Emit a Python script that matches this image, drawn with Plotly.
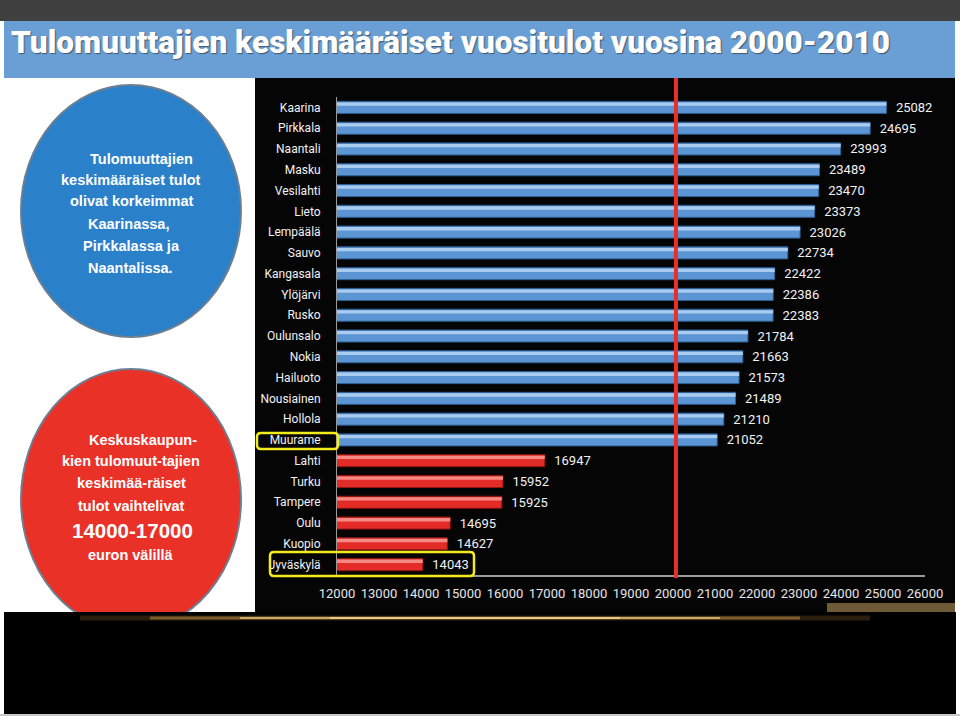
import plotly.graph_objects as go

# ---------------- data ----------------
high_names = ["Kaarina", "Pirkkala", "Naantali", "Masku", "Vesilahti", "Lieto",
              "Lempäälä", "Sauvo", "Kangasala", "Ylöjärvi", "Rusko", "Oulunsalo",
              "Nokia", "Hailuoto", "Nousiainen", "Hollola", "Muurame"]
high_values = [25082, 24695, 23993, 23489, 23470, 23373, 23026, 22734, 22422,
               22386, 22383, 21784, 21663, 21573, 21489, 21210, 21052]
city_names = ["Lahti", "Turku", "Tampere", "Oulu", "Kuopio", "Jyväskylä"]
city_values = [16947, 15952, 15925, 14695, 14627, 14043]
x_tick_values = [12000, 13000, 14000, 15000, 16000, 17000, 18000, 19000,
                 20000, 21000, 22000, 23000, 24000, 25000, 26000]
reference_level = 20000

title_text = "Tulomuuttajien keskimääräiset vuositulot vuosina 2000-2010"
blue_lines = ["Tulomuuttajien", "keskimääräiset tulot", "olivat korkeimmat",
              "Kaarinassa,", "Pirkkalassa ja", "Naantalissa."]
red_lines = ["Keskuskaupun-", "kien tulomuut-tajien", "keskimää-räiset",
             "tulot vaihtelivat", "14000-17000", "euron välillä"]

# ---------------- layout helpers ----------------
W, H = 960, 716
def px(x):
    return x / W
def py(y):
    return 1 - y / H

names = high_names + city_names
values = high_values + city_values
main_colors = ["#5b95d3"] * len(high_names) + ["#e32b27"] * len(city_names)
edge_colors = ["#2d5d92"] * len(high_names) + ["#8e1512"] * len(city_names)
hi_colors = ["#a9cbef"] * len(high_names) + ["#f58a84"] * len(city_names)

label_font = "Roboto, Liberation Sans, sans-serif"

fig = go.Figure()
fig.add_trace(go.Bar(
    x=values, y=names, orientation="h", width=0.58,
    marker=dict(color=main_colors, line=dict(color=edge_colors, width=1)),
    text=["\u00a0\u00a0" + str(v) for v in values], textposition="outside",
    textfont=dict(color="#f2f2f2", size=13, family=label_font),
    constraintext="none", cliponaxis=False, hoverinfo="x+y", showlegend=False,
))
fig.add_trace(go.Bar(
    x=values, y=names, orientation="h", width=0.16, offset=-0.24,
    marker=dict(color=hi_colors, line=dict(width=0)),
    hoverinfo="skip", showlegend=False,
))

shapes = []
# top dark band
shapes.append(dict(type="rect", xref="paper", yref="paper", x0=0, x1=1,
                   y0=py(21), y1=py(0), fillcolor="#404040", line=dict(width=0), layer="below"))
# blue title band
shapes.append(dict(type="rect", xref="paper", yref="paper", x0=px(4), x1=px(955),
                   y0=py(78), y1=py(21), fillcolor="#6a9fd6", line=dict(width=0), layer="below"))
# black chart panel
shapes.append(dict(type="rect", xref="paper", yref="paper", x0=px(255), x1=px(955),
                   y0=py(613), y1=py(78), fillcolor="#050505", line=dict(width=0), layer="below"))
# source box (bottom right)
shapes.append(dict(type="rect", xref="paper", yref="paper", x0=px(827), x1=px(955),
                   y0=py(613), y1=py(603), fillcolor="#6e5a36", line=dict(width=0), layer="below"))
# blue ellipse
shapes.append(dict(type="circle", xref="paper", yref="paper", x0=px(21), x1=px(241),
                   y0=py(337), y1=py(85), fillcolor="#2a80c9",
                   line=dict(color="#6c7f92", width=2), layer="below"))
# red ellipse
shapes.append(dict(type="circle", xref="paper", yref="paper", x0=px(21), x1=px(241),
                   y0=py(630), y1=py(369), fillcolor="#ea3128",
                   line=dict(color="#6c7f92", width=2), layer="below"))
# bottom black band
shapes.append(dict(type="rect", xref="paper", yref="paper", x0=px(4), x1=px(956),
                   y0=py(714), y1=py(612), fillcolor="#000000", line=dict(width=0), layer="below"))
shapes.append(dict(type="rect", xref="paper", yref="paper", x0=0, x1=1,
                   y0=0, y1=py(714), fillcolor="#c8c8c8", line=dict(width=0), layer="below"))
# golden glow
shapes.append(dict(type="line", xref="paper", yref="paper", x0=px(80), x1=px(870),
                   y0=py(618), y1=py(618), line=dict(color="rgba(140,100,45,0.30)", width=5), layer="below"))
shapes.append(dict(type="line", xref="paper", yref="paper", x0=px(150), x1=px(800),
                   y0=py(618), y1=py(618), line=dict(color="rgba(190,145,70,0.55)", width=3), layer="below"))
shapes.append(dict(type="line", xref="paper", yref="paper", x0=px(240), x1=px(720),
                   y0=py(618), y1=py(618), line=dict(color="rgba(240,205,130,0.9)", width=1.5), layer="below"))
shapes.append(dict(type="line", xref="paper", yref="paper", x0=px(330), x1=px(620),
                   y0=py(618), y1=py(618), line=dict(color="rgba(255,235,175,1)", width=1), layer="below"))

# red reference line
shapes.append(dict(type="line", xref="x", yref="paper", x0=reference_level + 70,
                   x1=reference_level + 70, y0=py(578), y1=py(78),
                   line=dict(color="#e8302a", width=4), layer="above"))

# yellow highlight boxes (rounded)
def rounded_box(x0, y0, x1, y1, r=4):
    X0, X1 = px(x0), px(x1)
    Y0, Y1 = py(y0), py(y1)
    rx, ry = r / W, r / H
    return (f"M {X0+rx},{Y0} L {X1-rx},{Y0} Q {X1},{Y0} {X1},{Y0-ry} "
            f"L {X1},{Y1+ry} Q {X1},{Y1} {X1-rx},{Y1} L {X0+rx},{Y1} "
            f"Q {X0},{Y1} {X0},{Y1+ry} L {X0},{Y0-ry} Q {X0},{Y0} {X0+rx},{Y0} Z")

shapes.append(dict(type="path", xref="paper", yref="paper",
                   path=rounded_box(257, 433, 338, 449), line=dict(color="#f2ec1c", width=2.5), layer="above"))
shapes.append(dict(type="path", xref="paper", yref="paper",
                   path=rounded_box(270, 552, 474, 576), line=dict(color="#f2ec1c", width=2.5), layer="above"))

annotations = []
annotations.append(dict(xref="paper", yref="paper", x=px(9), y=py(43), xanchor="left", yanchor="middle",
                        text=title_text, showarrow=False,
                        font=dict(family="Roboto, Liberation Sans, sans-serif", size=31.5,
                                  weight=900, color="white",
                                  shadow="1px 1px 1px rgba(40,40,40,0.6)")))

circle_font = "Liberation Sans, Roboto, sans-serif"
blue_y = [159, 180, 201, 224, 246, 268]
blue_x = [141, 131, 131, 128, 131, 130]
for t, yy, xx in zip(blue_lines, blue_y, blue_x):
    annotations.append(dict(xref="paper", yref="paper", x=px(xx), y=py(yy), xanchor="center",
                            yanchor="middle", text="<b>" + t + "</b>", showarrow=False,
                            font=dict(family=circle_font, size=14.5, color="white")))
red_y = [440, 461, 483, 506, 530, 555]
red_x = [143, 131, 131, 131, 132, 131]
red_sizes = [14.5, 14.5, 14.5, 14.5, 20.5, 14.5]
for t, yy, xx, s in zip(red_lines, red_y, red_x, red_sizes):
    annotations.append(dict(xref="paper", yref="paper", x=px(xx), y=py(yy), xanchor="center",
                            yanchor="middle", text="<b>" + t + "</b>", showarrow=False,
                            font=dict(family=circle_font, size=s, color="white")))

fig.update_layout(
    width=W, height=H, margin=dict(l=0, r=0, t=0, b=0, autoexpand=False),
    paper_bgcolor="white", plot_bgcolor="rgba(0,0,0,0)",
    barmode="overlay", showlegend=False,
    shapes=shapes, annotations=annotations,
    xaxis=dict(domain=[px(337), px(925)], range=[12000, 26000], automargin=False,
               tickvals=x_tick_values, ticktext=[str(v) for v in x_tick_values],
               tickfont=dict(color="#e6e6e6", size=13, family=label_font),
               showgrid=False, zeroline=False, showline=True, linecolor="#9a9a9a", linewidth=1.5,
               ticks="", ticklabelstandoff=6, fixedrange=True),
    yaxis=dict(domain=[py(575), py(97)], categoryorder="array", categoryarray=names,
               autorange="reversed", automargin=False,
               tickfont=dict(color="#f2f2f2", size=12, family=label_font),
               showgrid=False, zeroline=False, showline=True, linecolor="#9a9a9a", linewidth=1,
               ticks="", ticklabelstandoff=13, fixedrange=True),
)

fig.write_html("out.html", config={"displayModeBar": False},
               post_script="document.body.style.margin='0px';document.body.style.overflow='hidden';")
